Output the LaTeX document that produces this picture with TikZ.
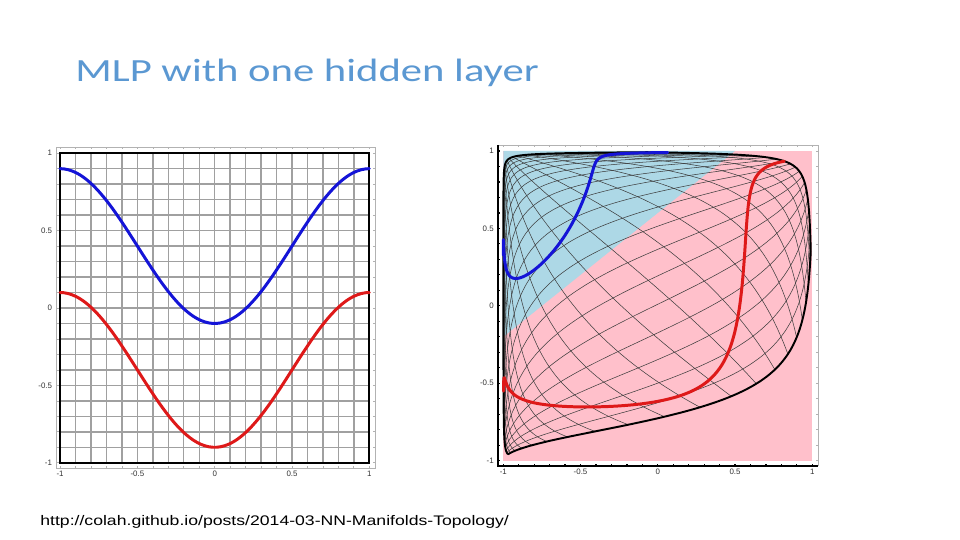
\documentclass[tikz,border=0pt]{standalone}
\usepackage{fontspec}
\usepackage{graphicx}
\setmainfont{Liberation Sans}
\newfontfamily\titlefont{Carlito}
\usetikzlibrary{positioning}
\definecolor{TitleBlue}{RGB}{91,152,210}
\definecolor{GridGray}{RGB}{160,160,160}
\definecolor{MeshGray}{RGB}{60,60,60}
\definecolor{CurveBlue}{RGB}{20,20,215}
\definecolor{CurveRed}{RGB}{222,25,25}
\definecolor{FillPink}{RGB}{255,192,203}
\definecolor{FillSky}{RGB}{173,216,230}

\begin{document}
\begin{tikzpicture}[
    declare function={hu(\a,\b)=tanh(2.37*\a-1.36*\b-1.08); hv(\a,\b)=tanh(1.155*\a+1.2*\b+0.415);},
    gridline/.style={GridGray, line width=0.8pt},
    meshline/.style={MeshGray, line width=0.3pt},
    frameline/.style={black, line width=1.1pt},
    axisbox/.style={black!30, line width=0.4pt},
    axisdark/.style={black, line width=0.7pt},
    curve/.style={line width=1.7pt, line join=round, line cap=round},
    ticklbl/.style={font=\fontsize{4.5}{5}\selectfont, inner sep=0pt, text=black!80}
]
\useasboundingbox (0,0) rectangle (19.2,10.8);

%% ---- TITLE AND SOURCE ----
\node[anchor=base west, inner sep=0pt, text=TitleBlue] (title) at (1.5,9.16)
    {\titlefont\fontsize{18.4}{22}\selectfont\scalebox{1.32}[1]{MLP with one hidden layer}};
\node[anchor=base west, inner sep=0pt] (source) at (0.8,0.28)
    {\fontsize{7.9}{9}\selectfont\scalebox{1.27}[1]{http://colah.github.io/posts/2014-03-NN-Manifolds-Topology/}};

%% ---- LEFT PLOT (input space) ----
\begin{scope}[shift={(4.294,4.64)}, x=3.092cm, y=3.096cm]
  \foreach \k in {-10,...,10} {
    \draw[gridline] (\k/10,-1) -- (\k/10,1);
    \draw[gridline] (-1,\k/10) -- (1,\k/10);
  }
  \draw[frameline] (-1,-1) rectangle (1,1);
  % outer box with ticks
  \draw[axisbox] (-1.022,-1.034) rectangle (1.037,1.04);
  \foreach \k in {-10,...,10} {
    \draw[axisbox] (\k/10,-1.034) -- ++(0,0.013);
    \draw[axisbox] (\k/10,1.04) -- ++(0,-0.013);
    \draw[axisbox] (-1.022,\k/10) -- ++(0.013,0);
    \draw[axisbox] (1.037,\k/10) -- ++(-0.013,0);
  }
  \foreach \v/\t [count=\n] in {-1/-1,-0.5/-0.5,0/0,0.5/0.5,1/1} {
    \node[ticklbl, anchor=east] (ly\n) at (-1.05,\v) {\t};
    \node[ticklbl, anchor=north] (lx\n) at (\v,-1.05) {\t};
  }
  \draw[curve, CurveBlue] plot[domain=-1:1, samples=80, smooth, variable=\t] (\t,{0.4-0.5*cos(180*\t)});
  \draw[curve, CurveRed] plot[domain=-1:1, samples=80, smooth, variable=\t] (\t,{-0.4-0.5*cos(180*\t)});
\end{scope}

%% ---- RIGHT PLOT (hidden layer) ----
\begin{scope}[shift={(13.156,4.684)}, x=3.09cm, y=3.096cm]
  \fill[FillPink] (-1,-1) rectangle (1,1);
  \fill[FillSky] (-1,1) -- (0.5,1) -- (-1,-0.2) -- cycle;
  % warped grid
  \foreach \k in {-9,...,9} {
    \draw[meshline] plot[domain=-1:1, samples=40, smooth, variable=\t] ({hu(\t,\k/10)},{hv(\t,\k/10)});
    \draw[meshline] plot[domain=-1:1, samples=40, smooth, variable=\t] ({hu(\k/10,\t)},{hv(\k/10,\t)});
  }
  \draw[frameline] plot[domain=-1:1, samples=60, smooth, variable=\t] ({hu(\t,1)},{hv(\t,1)});
  \draw[frameline] plot[domain=-1:1, samples=60, smooth, variable=\t] ({hu(\t,-1)},{hv(\t,-1)});
  \draw[frameline] plot[domain=-1:1, samples=60, smooth, variable=\t] ({hu(1,\t)},{hv(1,\t)});
  \draw[frameline] plot[domain=-1:1, samples=60, smooth, variable=\t] ({hu(-1,\t)},{hv(-1,\t)});
  \draw[curve, CurveBlue] plot[domain=-1:1, samples=120, smooth, variable=\t]
    ({hu(\t,0.4-0.5*cos(180*\t))},{hv(\t,0.4-0.5*cos(180*\t))});
  \draw[curve, CurveRed] plot[domain=-1:1, samples=120, smooth, variable=\t]
    ({hu(\t,-0.4-0.5*cos(180*\t))},{hv(\t,-0.4-0.5*cos(180*\t))});
  % axes
  \draw[axisbox] (-1.034,1.039) -- (1.037,1.039) -- (1.037,-1.035);
  \draw[axisdark] (-1.034,1.039) -- (-1.034,-1.035) -- (1.037,-1.035);
  \foreach \k in {-10,...,10} {
    \draw[axisdark] (\k/10,-1.035) -- ++(0,0.013);
    \draw[axisbox] (\k/10,1.039) -- ++(0,-0.013);
    \draw[axisdark] (-1.034,\k/10) -- ++(0.013,0);
    \draw[axisbox] (1.037,\k/10) -- ++(-0.013,0);
  }
  \foreach \v/\t [count=\n] in {-1/-1,-0.5/-0.5,0/0,0.5/0.5,1/1} {
    \node[ticklbl, anchor=east] (ry\n) at (-1.06,\v) {\t};
    \node[ticklbl, anchor=north] (rx\n) at (\v,-1.05) {\t};
  }
\end{scope}
\end{tikzpicture}
\end{document}
